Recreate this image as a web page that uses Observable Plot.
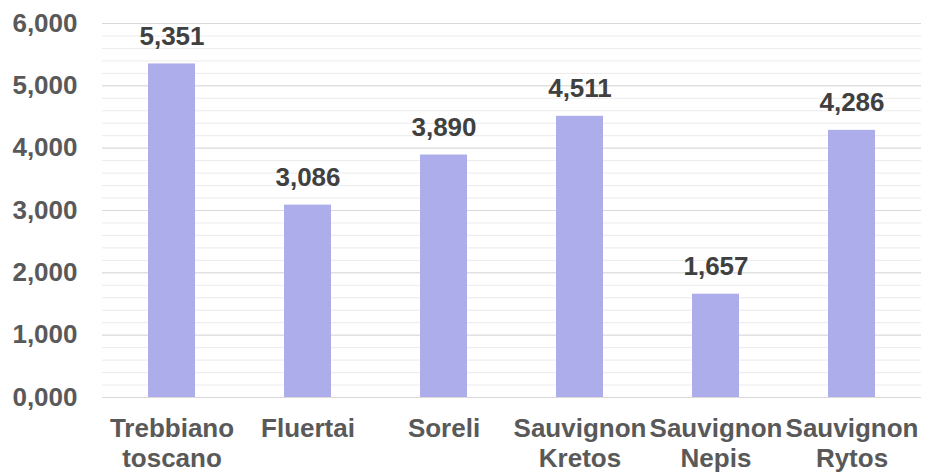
<!DOCTYPE html>
<html>
<head>
<meta charset="utf-8">
<script src="https://cdn.jsdelivr.net/npm/d3@7"></script>
<script src="https://cdn.jsdelivr.net/npm/@observablehq/plot@0.6"></script>
<style>
  html, body { margin: 0; padding: 0; background: #fff; }
  #chart svg { display: block; }
</style>
</head>
<body>
<div id="chart"></div>
<script>
const categories = ["Trebbiano toscano", "Fluertai", "Soreli", "Sauvignon Kretos", "Sauvignon Nepis", "Sauvignon Rytos"];
const tickLabels = ["Trebbiano\ntoscano", "Fluertai", "Soreli", "Sauvignon\nKretos", "Sauvignon\nNepis", "Sauvignon\nRytos"];
const values = [5.351, 3.086, 3.890, 4.511, 1.657, 4.286];
const yTicks = [0, 1, 2, 3, 4, 5, 6];
const yMinorTicks = d3.range(0, 6.001, 0.2).map(v => +v.toFixed(1));

const data = categories.map((c, i) => ({ category: c, value: values[i] }));
const fmt = v => v.toFixed(3).replace(".", ",");
const labelOf = new Map(categories.map((c, i) => [c, tickLabels[i]]));

const font = "'Liberation Sans', Arial, sans-serif";
const textColor = "#595959";

const chart = Plot.plot({
  width: 927,
  height: 473,
  marginLeft: 102,
  marginRight: 6,
  marginTop: 23,
  marginBottom: 76,
  style: { fontFamily: font, background: "#fff" },
  x: { domain: categories, paddingInner: 0.655, paddingOuter: 0.3275, label: null },
  y: { domain: [0, 6], label: null },
  marks: [
    Plot.ruleY(yMinorTicks, { stroke: "#EBEBEB", strokeWidth: 1 }),
    Plot.ruleY(yTicks, { stroke: "#D9D9D9", strokeWidth: 1 }),
    Plot.barY(data, { x: "category", y: "value", fill: "#AEADEB" }),
    Plot.axisY({ ticks: yTicks, tickSize: 0, tickPadding: 25, tickFormat: fmt, fontSize: 26, fontWeight: "bold", fill: textColor, label: null }),
    Plot.axisX({ tickSize: 0, tickPadding: 18, tickFormat: c => labelOf.get(c), fontSize: 26, fontWeight: "bold", fill: textColor, lineHeight: 1.15, label: null }),
    Plot.text(data, { x: "category", y: "value", text: d => fmt(d.value), lineAnchor: "bottom", dy: -19, fontSize: 26, fontWeight: "bold", fill: "#404040" })
  ]
});
document.getElementById("chart").appendChild(chart);
</script>
</body>
</html>
